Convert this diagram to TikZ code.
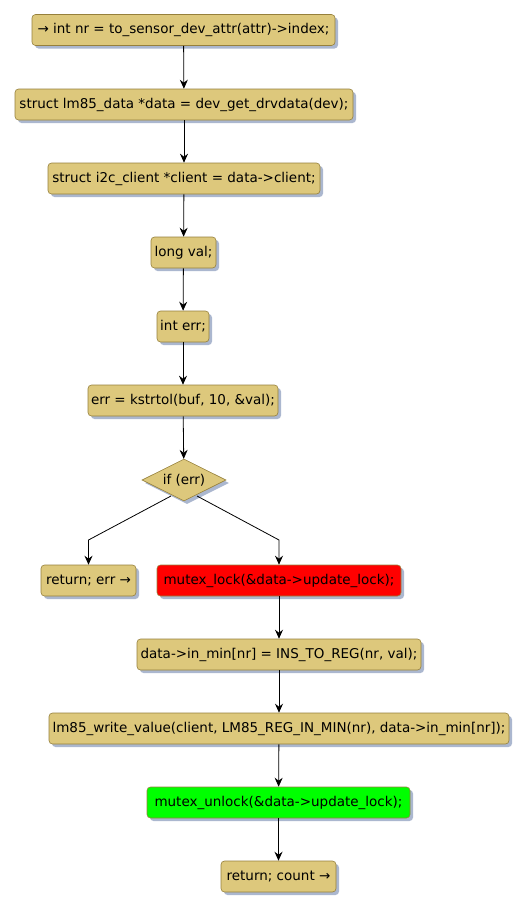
\documentclass[tikz,border=0pt]{standalone}
\usepackage{fontspec}
\setmainfont{DejaVu Sans}
\usetikzlibrary{shapes.geometric,shadows,arrows.meta}
\definecolor{boxfill}{RGB}{221,200,124}
\definecolor{boxdraw}{RGB}{150,128,60}
\definecolor{shadowc}{RGB}{150,165,195}
\tikzset{
  act/.style={draw=boxdraw, fill=boxfill, rounded corners=3.5pt, minimum height=31pt,
    inner xsep=1pt, inner ysep=0pt, font=\fontsize{13.5}{15}\selectfont, line width=0.6pt,
    drop shadow={shadow xshift=3pt, shadow yshift=-3pt, fill=shadowc, opacity=0.8}},
  dec/.style={diamond, aspect=2, draw=boxdraw, fill=boxfill, inner sep=1pt, minimum width=84pt, minimum height=42pt,
    font=\fontsize{13.5}{15}\selectfont, line width=0.6pt,
    drop shadow={shadow xshift=3pt, shadow yshift=-3pt, fill=shadowc, opacity=0.8}},
  flow/.style={draw=black, line width=0.8pt, -{Stealth[length=9pt,width=8pt,inset=3pt]}}
}
\begin{document}
\begin{tikzpicture}[x=1pt,y=-1pt]
\useasboundingbox (0,0) rectangle (527,910);
\node[act, minimum width=303pt] (n1) at (183.5,30) {→ int nr = to\_sensor\_dev\_attr(attr)->index;};
\node[act, minimum width=338pt] (n2) at (184,104.5) {struct lm85\_data *data = dev\_get\_drvdata(dev);};
\node[act, minimum width=272pt] (n3) at (184,178.5) {struct i2c\_client *client = data->client;};
\node[act, minimum width=65pt] (n4) at (183.5,252.5) {long val;};
\node[act, minimum width=52pt] (n5) at (183,326.5) {int err;};
\node[act, minimum width=190pt] (n6) at (183,400.5) {err = kstrtol(buf, 10, \&val);};
\node[dec] (d) at (184,480) {if (err)};
\node[act, minimum width=95pt] (n8) at (88.5,580.5) {return; err →};
\node[act, fill=red, minimum width=244pt] (n9) at (279,580.5) {mutex\_lock(\&data->update\_lock);};
\node[act, minimum width=284pt] (n10) at (279,654.5) {data->in\_min[nr] = INS\_TO\_REG(nr, val);};
\node[act, minimum width=460pt] (n11) at (279,728.5) {lm85\_write\_value(client, LM85\_REG\_IN\_MIN(nr), data->in\_min[nr]);};
\node[act, fill=green, minimum width=263pt] (n12) at (278.5,802.5) {mutex\_unlock(\&data->update\_lock);};
\node[act, minimum width=115pt] (n13) at (278.5,876.5) {return; count →};
\coordinate (cl) at (88.5,540);
\coordinate (cr) at (279,540);
\draw[flow] (n1) -- (n2);
\draw[flow] (n2) -- (n3);
\draw[flow] (n3) -- (n4);
\draw[flow] (n4) -- (n5);
\draw[flow] (n5) -- (n6);
\draw[flow] (n6) -- (d);
\draw[flow] (171,496) -- (cl) -- (n8);
\draw[flow] (197,496) -- (cr) -- (n9);
\draw[flow] (n9) -- (n10);
\draw[flow] (n10) -- (n11);
\draw[flow] (n11) -- (n12);
\draw[flow] (n12) -- (n13);
\end{tikzpicture}
\end{document}
